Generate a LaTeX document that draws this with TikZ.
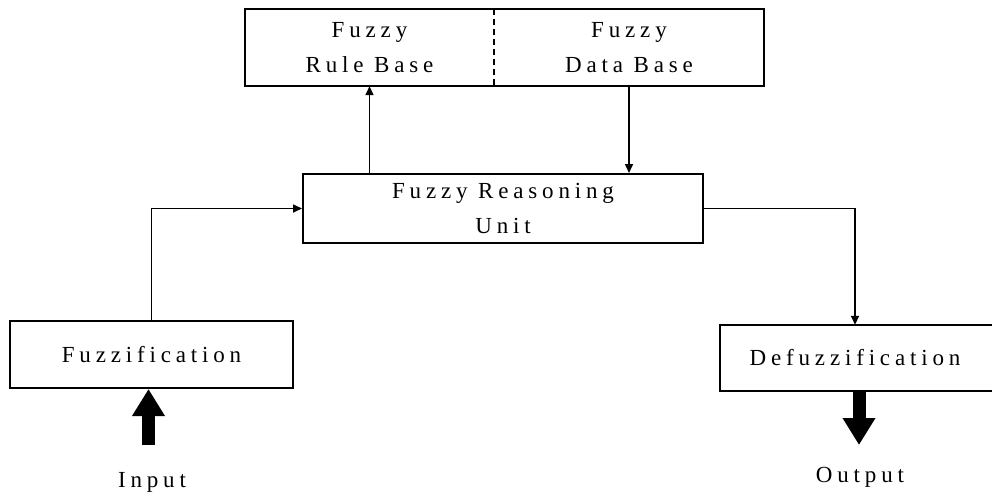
\documentclass[tikz,border=0pt]{standalone}
\usepackage{fontspec}
\setmainfont{Liberation Serif}[LetterSpace=21]
\usetikzlibrary{arrows.meta}
\begin{document}
\begin{tikzpicture}[x=1pt,y=-1pt,
  every node/.style={font=\fontsize{23}{35}\selectfont, inner sep=0pt, align=center},
  boxline/.style={line width=2pt},
  conn/.style={line width=1.6pt, -{Triangle[length=9pt,width=8pt]}},
  thick arrow/.style={line width=13pt, -{Triangle[width=31pt,length=27pt]}}]
\useasboundingbox (0,0) rectangle (992,500);
% knowledge base
\node[minimum width=249pt, minimum height=77pt] (rb) at (369.5,47.5) {Fuzzy\\Rule Base};
\node[minimum width=270pt, minimum height=77pt] (db) at (629,47.5) {Fuzzy\\Data Base};
\draw[boxline] (rb.north west) rectangle (db.south east);
\draw[line width=1.8pt, dash pattern=on 6pt off 4pt] (rb.north east) -- (rb.south east);
% reasoning unit
\node[draw, boxline, minimum width=400pt, minimum height=69pt] (fru) at (503,208.5) {Fuzzy Reasoning\\Unit};
% fuzzification
\node[draw, boxline, minimum width=283pt, minimum height=67pt] (fuzz) at (151.5,354.5) {Fuzzification};
% defuzzification (right side open at picture edge)
\node[minimum width=270pt, minimum height=66pt] (defuzz) at (855,358) {Defuzzification};
\draw[boxline] ([xshift=3pt]defuzz.north east) -- (defuzz.north west) -- (defuzz.south west) -- ([xshift=3pt]defuzz.south east);
% labels
\node (in) at (152,482) {Input};
\node (out) at (860,477) {Output};
% connectors
\draw[conn] (fuzz.north) |- (fru.west);
\draw[conn] (fru.north -| rb.south) -- (rb.south);
\draw[conn] (db.south) -- (db.south |- fru.north);
\draw[conn] (fru.east) -| (defuzz.north);
% thick arrows
\coordinate (inbot) at (148.5,445);
\draw[thick arrow] (inbot) -- (fuzz.south -| inbot);
\coordinate (outtip) at (859,445);
\draw[thick arrow] (defuzz.south -| outtip) -- (outtip);
\end{tikzpicture}
\end{document}
